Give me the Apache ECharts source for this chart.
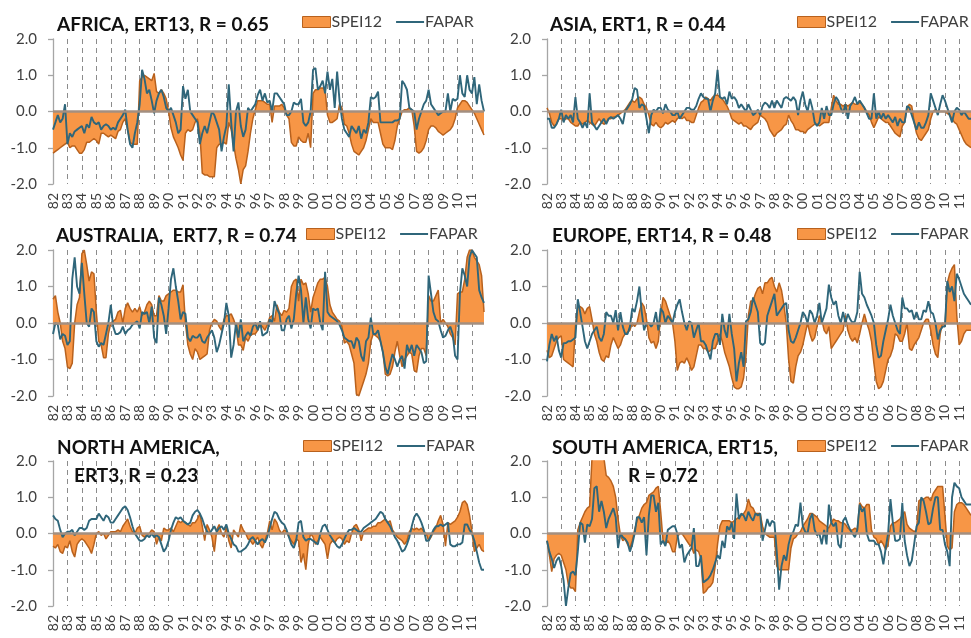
<!DOCTYPE html>
<html><head><meta charset="utf-8">
<script src="https://cdn.jsdelivr.net/npm/echarts@6/dist/echarts.min.js"></script>
<style>html,body{margin:0;padding:0;background:#fff}#c{width:971px;height:638px}</style>
</head><body><div id="c"></div>
<script>
// tick labels (years) and sampling (6 samples per year, bimonthly)
const yearLabels = ['82','83','84','85','86','87','88','89','90','91','92','93','94','95','96','97','98','99','00','01','02','03','04','05','06','07','08','09','10','11'];
const stepsPerYear = 6;

const africaSpei = [
-1.15,-1.1,-1.05,-1.0,-0.95,-0.9, -0.85,-1.0,-0.95,-0.95,-1.05,-1.15, -1.15,-1.05,-0.85,-0.85,-0.8,-0.75,
-0.8,-0.9,-0.6,-0.6,-0.65,-0.7, -0.65,-0.7,-0.75,-0.55,-0.5,-0.3, -0.2,-0.5,-0.85,-0.9,-0.9,-0.9,
0.85,0.95,1.0,0.95,0.9,0.85, 1.05,0.55,0.5,0.6,0.5,0.35, 0.0,-0.45,-0.7,-0.85,-1.0,-1.2,
-1.35,-0.6,-0.5,-0.55,-0.5,-0.3, -0.2,-0.6,-1.7,-1.75,-1.75,-1.8, -1.8,-1.8,-1.0,-0.9,-0.9,-0.85,
-0.9,-0.3,-0.5,-0.9,-1.3,-1.6, -2.0,-1.6,-1.5,-1.1,-0.6,-0.2, 0.05,0.3,0.3,0.3,0.25,0.2,
0.2,-0.3,0.15,0.15,0.15,0.2, 0.1,-0.1,-0.2,-0.85,-0.95,-0.95, -0.7,-0.8,-0.85,-0.85,-0.6,-1.0,
0.5,0.6,0.6,0.65,0.65,0.6, -0.1,-0.3,-0.3,-0.25,-0.2,0.2, 0.1,-0.35,-0.4,-0.6,-0.9,-1.1,
-1.15,-1.2,-1.1,-1.0,-0.8,-0.5, -0.2,-0.3,-0.3,-0.3,-0.6,-0.9, -1.0,-1.0,-1.0,-1.05,-0.8,-0.4,
-0.2,0.0,0.05,0.05,0.1,0.05, -0.4,-1.1,-1.15,-1.1,-1.0,-0.8, -0.5,-0.4,-0.4,-0.45,-0.55,-0.6,
-0.65,-0.6,-0.55,-0.5,-0.4,-0.2, 0.1,0.2,0.3,0.3,0.25,0.15, 0.05,-0.05,-0.2,-0.35,-0.5,-0.65];
const africaFapar = [
-0.5,-0.3,-0.1,-0.3,-0.2,0.2, -0.9,-0.6,-0.7,-0.55,-0.5,-0.45, -0.4,-0.6,-0.35,-0.45,-0.15,-0.3,
-0.35,-0.3,-0.5,-0.4,-0.35,-0.4, -0.5,-0.45,-0.5,-0.3,-0.2,-0.1, 0.05,-0.5,-0.9,-1.0,-0.6,-0.3,
0.2,1.15,0.9,0.5,0.6,0.3, -0.05,0.3,0.5,0.6,0.4,0.1, 0.0,0.1,-0.1,-0.3,-0.6,-0.5,
0.7,0.35,0.6,0.0,-0.1,-0.2, -0.3,-0.9,-0.6,-0.4,-0.6,-0.3, 0.0,-0.1,-0.3,-0.5,-1.1,-0.7,
-0.4,0.75,-0.3,-1.1,0.0,0.25, -0.4,-0.7,-0.5,0.1,0.0,0.1, 0.2,0.45,0.6,0.3,0.5,0.25,
0.3,0.0,0.5,0.5,0.4,0.3, 0.2,-0.1,-0.1,0.0,0.25,0.2, 0.2,0.35,-0.3,-0.4,-0.3,0.0,
1.15,1.2,0.6,0.7,0.85,0.5, 1.1,0.6,0.9,0.1,1.1,0.3, -0.2,-0.5,-0.6,-0.7,-0.4,-0.5,
-0.6,-0.4,-0.75,-0.5,-0.6,-0.3, 0.4,0.35,0.4,0.55,-0.3,-0.3, -0.3,-0.3,-0.3,-0.3,-0.25,-0.25,
-0.2,0.85,0.75,0.6,0.1,0.05, 0.0,-0.5,-0.2,0.0,0.2,0.3, 0.6,0.2,0.1,0.0,-0.1,-0.05,
0.0,0.0,0.5,0.0,0.35,0.3, 0.35,1.0,0.5,0.4,1.0,0.6, 0.5,0.95,0.2,0.75,0.3,0.0];

const asiaSpei = [
0.1,-0.05,-0.3,-0.4,-0.35,-0.2, -0.2,-0.25,-0.2,-0.2,-0.3,-0.35, -0.4,-0.4,-0.3,-0.35,-0.3,-0.25,
-0.3,-0.35,-0.4,-0.3,-0.2,-0.3, -0.35,-0.3,-0.2,-0.2,-0.15,-0.15, -0.1,-0.05,0.0,0.05,0.15,0.25,
0.3,0.25,0.35,0.4,0.35,0.2, 0.1,-0.1,-0.35,-0.4,-0.3,-0.4, -0.45,-0.4,-0.3,-0.35,-0.3,-0.25,
-0.3,-0.2,-0.15,-0.2,-0.15,-0.25, -0.25,-0.3,-0.3,-0.1,0.1,0.25, 0.3,0.4,0.35,0.3,0.4,0.45,
0.45,0.4,0.35,0.25,0.15,0.0, -0.2,-0.25,-0.3,-0.35,-0.3,-0.4, -0.4,-0.45,-0.5,-0.4,-0.35,-0.3,
-0.1,-0.15,-0.2,-0.3,-0.5,-0.6, -0.7,-0.6,-0.55,-0.5,-0.4,-0.35, -0.1,-0.25,-0.35,-0.5,-0.5,-0.55,
-0.55,-0.6,-0.5,-0.45,-0.4,-0.35, -0.35,-0.4,-0.35,-0.3,-0.3,-0.3, 0.1,0.45,0.3,0.2,0.2,0.15,
0.2,0.15,0.2,0.25,0.2,0.2, 0.25,0.2,0.1,0.0,-0.1,-0.3, -0.45,-0.3,-0.15,-0.2,-0.25,-0.3,
-0.3,-0.4,-0.5,-0.6,-0.65,-0.7, -0.4,-0.3,0.1,0.2,0.15,-0.3, -0.6,-0.75,-0.8,-0.7,-0.6,-0.5,
-0.2,0.0,0.05,0.0,0.0,0.0, 0.0,-0.05,-0.1,-0.2,-0.3,-0.35, -0.5,-0.65,-0.8,-0.9,-0.95,-1.0];
const asiaFapar = [
-0.2,-0.2,-0.45,-0.45,-0.35,-0.2, 0.05,-0.3,-0.1,-0.2,-0.1,-0.3, 0.4,-0.2,-0.3,-0.45,-0.3,-0.45,
0.5,-0.3,-0.4,-0.5,-0.4,-0.3, -0.2,-0.35,-0.2,-0.15,-0.2,-0.15, -0.1,-0.2,-0.35,0.0,0.1,0.2,
0.35,0.65,0.6,0.1,0.2,0.15, -0.2,-0.6,-0.1,0.05,0.0,0.1, 0.1,-0.05,0.2,0.05,0.0,-0.1,
-0.1,0.0,-0.2,-0.1,0.0,0.1, 0.1,0.05,0.05,0.15,0.35,0.5, 0.4,0.35,0.35,0.0,0.3,0.5,
1.15,0.4,0.35,0.4,0.2,0.55, 0.35,0.4,0.3,0.1,0.2,0.1, 0.0,0.2,0.05,-0.1,-0.05,0.05,
-0.1,0.15,0.25,0.2,0.1,0.3, 0.1,0.3,0.2,0.1,0.35,0.4, 0.35,0.3,0.4,0.3,-0.1,0.3,
0.55,0.2,0.0,0.35,0.1,-0.3, -0.4,-0.3,0.1,-0.2,0.15,-0.1, -0.1,0.2,0.4,0.3,0.1,-0.05,
0.2,-0.2,0.15,0.25,0.4,0.2, 0.3,0.2,0.1,-0.05,-0.2,-0.2, 0.5,-0.2,0.0,-0.2,-0.05,-0.2,
-0.1,-0.2,-0.3,-0.15,-0.4,-0.2, -0.3,-0.3,0.15,0.1,-0.1,-0.3, -0.5,-0.3,-0.45,-0.45,-0.3,-0.1,
0.5,0.3,0.1,-0.1,0.2,0.45, 0.3,0.1,-0.1,-0.3,0.0,0.1, 0.05,-0.1,0.0,-0.1,-0.2,-0.2];

const australiaSpei = [
0.65,0.75,0.3,0.0,-0.5,-0.7, -1.2,-1.25,-1.1,0.0,0.5,0.7, 1.9,2.0,1.6,1.15,1.4,1.35,
0.3,-0.5,-0.6,-0.95,-0.95,-0.3, 0.0,0.05,0.1,0.3,0.35,0.0, 0.4,0.55,0.4,0.3,0.4,0.3,
0.45,0.2,0.3,0.5,0.6,0.5, 0.2,0.2,0.75,0.6,0.6,0.75, 0.8,0.85,0.9,0.9,0.85,0.85,
1.05,0.0,-0.6,-0.85,-1.0,-0.7, -0.8,-1.0,-0.95,-0.9,-0.85,-0.2, 0.0,0.1,0.05,-0.1,-0.2,0.1,
0.2,0.2,0.25,0.1,-0.1,-0.6, -0.6,-0.75,-0.4,-0.5,-0.35,-0.3, -0.3,-0.2,-0.05,-0.1,-0.2,-0.05,
0.15,0.2,0.05,0.5,0.3,0.2, 0.35,0.3,0.4,1.0,1.15,1.2, 0.6,1.2,1.05,1.1,0.8,0.3,
0.7,0.9,1.1,1.2,1.2,1.25, 1.0,0.5,0.3,0.2,0.1,0.05, -0.1,-0.55,-0.5,-0.6,-0.85,-1.1,
-1.95,-2.0,-1.8,-1.6,-1.4,-1.1, -0.5,-0.3,-0.35,-0.4,-0.5,-0.8, -1.4,-1.45,-1.4,-1.2,-0.8,-0.5,
-0.9,-1.2,-1.0,-0.9,-0.8,-0.85, -1.3,-1.35,-0.9,-0.7,-0.7,-0.9, 0.75,0.6,0.6,0.75,0.9,0.0,
0.1,0.0,-0.1,-0.3,-0.4,-0.6, 0.8,0.85,0.85,1.2,1.8,2.0, 2.0,1.8,1.7,1.6,1.3,0.3];
const australiaFapar = [
-0.3,0.0,-0.05,-0.45,-0.3,-0.35, -0.6,-0.5,1.2,1.8,1.0,0.8, 1.65,0.8,0.0,-0.1,0.4,0.3,
-0.5,-0.65,-0.55,-0.6,-0.3,0.0, 0.5,-0.1,-0.3,-0.3,-0.25,-0.1, -0.3,-0.2,-0.15,-0.05,0.0,0.05,
-0.15,0.3,0.25,0.3,0.0,0.45, -0.4,-0.55,0.7,0.5,0.2,-0.3, 0.4,1.2,1.5,1.0,0.6,0.1,
0.3,0.25,-0.4,-0.5,-0.35,-0.4, -0.4,-0.3,-0.5,-0.55,-0.4,-0.3, -0.2,-0.4,-0.8,-0.6,-0.3,0.0,
0.55,0.2,-0.95,-0.6,0.0,-0.4, 0.1,-0.5,-0.35,-0.25,-0.35,-0.1, 0.0,-0.2,0.05,-0.35,-0.3,-0.25,
0.1,0.0,0.6,0.4,0.25,-0.2, -0.2,0.1,0.2,-0.15,0.1,0.8, 1.3,0.9,0.0,0.7,0.1,-0.15,
0.4,0.35,0.4,0.0,-0.2,1.4, 0.3,0.2,0.15,0.1,0.05,-0.05, -0.2,-0.4,-0.45,-0.5,-0.5,-0.7,
-0.4,-0.5,-0.9,-1.05,-0.5,-0.4, 0.15,-0.3,-0.3,-0.2,-0.5,-0.8, -1.2,-1.4,-1.1,-0.85,-1.0,-1.2,
-1.0,-0.9,-1.25,-0.6,-0.8,-0.6, -0.9,-0.6,-0.7,-0.8,-1.1,-1.05, 1.3,0.8,0.3,0.1,0.05,-0.2,
-0.4,-0.35,-0.2,-0.1,-0.3,-0.9, -1.0,0.8,1.5,1.3,1.0,1.8, 2.0,1.9,1.8,0.9,0.7,0.55];

const europeSpei = [
-0.75,-0.95,-0.9,-0.7,-0.5,-0.4, -0.35,-1.0,-1.05,-1.1,-1.15,-1.2, -0.1,0.45,0.45,0.4,0.25,0.4,
0.45,0.1,-0.3,-0.5,-0.8,-1.0, -1.05,-0.9,-0.95,-0.6,-0.4,-0.55, -0.7,-0.6,-0.4,-0.3,-0.25,-0.2,
0.0,-0.1,0.0,0.3,0.55,0.45, 0.1,-0.4,-0.55,-0.5,-0.7,-0.5, 0.2,0.7,0.6,0.4,0.2,0.0,
-0.5,-1.3,-1.1,-1.05,-1.1,-0.95, -1.1,-1.3,-1.2,-0.9,-0.6,-0.6, -0.7,-0.7,-0.8,-0.75,-0.7,-0.7,
-0.5,-0.3,-0.5,-0.8,-1.0,-1.2, -1.5,-1.75,-1.8,-1.8,-1.75,-1.5, -0.9,0.2,0.6,0.6,0.8,0.95,
1.0,0.8,1.1,1.1,1.2,1.25, 1.0,0.85,1.1,0.9,0.5,0.0, -1.0,-1.6,-1.65,-1.2,-0.9,-0.8,
-0.6,-0.3,0.0,-0.3,-0.5,-0.4, -0.1,0.2,0.1,-0.2,-0.3,-0.1, -0.7,-0.6,-0.5,-0.4,-0.3,-0.2,
0.2,-0.2,-0.4,-0.5,-0.4,-0.55, -0.3,0.0,0.25,0.0,-0.2,-0.5, -1.1,-1.6,-1.8,-1.75,-1.6,-1.3,
-1.0,-0.9,-0.7,-0.3,-0.35,-0.5, -0.5,-0.3,0.0,-0.7,-0.75,-0.6, -0.5,-0.4,-0.2,0.0,0.1,0.1,
-0.2,-0.6,-0.85,-0.95,-0.3,0.0, -0.1,1.1,1.35,1.5,1.6,0.2, -0.6,-0.5,-0.3,-0.2,-0.2,-0.2];
const europeFapar = [
-1.05,-0.6,-0.3,-0.5,-0.35,-0.75, -0.95,-0.55,-0.55,-0.5,-0.5,-0.45, -0.4,0.65,0.3,-0.1,-0.5,-0.7,
-0.5,-0.3,-0.2,-0.1,-0.4,-0.5, -0.3,0.3,0.2,0.2,0.0,0.35, -0.2,0.3,-0.1,-0.3,-0.3,-0.1,
0.4,0.3,0.6,1.0,0.3,-0.2, 0.0,0.0,-0.1,0.0,0.3,-0.2, 0.4,0.3,0.0,0.2,0.1,0.0,
0.3,0.5,0.65,0.3,0.0,-0.2, 0.05,0.0,-0.4,-0.2,0.0,-0.5, -0.5,-0.6,-0.8,-1.0,-0.5,-0.3,
-0.3,-0.6,0.25,-0.2,-0.4,0.25, -0.3,-0.7,-1.6,-1.1,-0.8,-1.2, 0.05,0.1,0.3,0.7,0.5,0.3,
-0.55,-0.6,-0.55,0.2,0.4,0.6, 0.8,0.2,0.3,0.4,0.5,0.55, -0.2,-0.5,-0.55,-0.4,-0.2,0.0,
0.3,0.2,0.0,0.35,0.25,0.0, 0.2,0.55,0.0,0.2,0.4,1.05, 0.7,0.5,0.6,0.2,0.0,0.3,
0.0,0.25,0.1,0.0,0.05,0.3, 1.4,0.8,0.7,0.5,0.35,0.2, 0.0,-0.6,-0.95,-0.9,-0.5,-0.2,
0.1,0.5,0.2,0.0,-0.2,-0.3, 0.7,0.4,0.4,0.3,0.35,0.1, 0.3,0.1,0.1,0.35,0.3,0.6,
0.3,0.25,0.0,-0.45,-0.2,-0.1, -0.1,1.15,0.85,1.0,0.6,1.35, 1.2,1.0,0.8,0.7,0.6,0.5];

const northAmericaSpei = [
-0.35,-0.4,-0.3,-0.5,-0.55,-0.35, -0.4,-0.2,-0.5,-0.65,-0.3,-0.2, -0.15,-0.2,-0.3,-0.4,-0.55,-0.3,
0.0,0.05,-0.05,0.0,-0.15,-0.05, 0.05,0.05,0.05,0.1,0.05,0.2, 0.3,0.4,0.2,0.05,0.0,0.15,
0.2,-0.05,-0.1,-0.05,0.0,0.1, 0.05,-0.3,-0.1,-0.2,0.15,0.1, 0.1,0.15,0.05,0.2,0.35,0.3,
0.35,0.3,0.25,0.2,0.3,0.3, 0.4,0.55,0.2,-0.2,0.25,0.1, -0.1,-0.5,0.1,0.25,0.0,-0.1,
0.2,-0.2,-0.4,0.1,0.0,-0.1, 0.25,0.1,0.0,-0.15,-0.2,-0.3, -0.2,-0.1,-0.3,-0.4,-0.2,0.0,
0.35,0.1,0.4,0.3,0.1,0.0, 0.1,0.05,-0.1,-0.2,-0.3,-0.15, -0.2,-0.8,-0.55,-1.0,-0.3,0.0,
-0.1,-0.3,-0.2,-0.1,-0.2,-0.3, -0.7,-0.3,-0.2,-0.25,-0.15,-0.1, -0.15,-0.3,-0.2,-0.25,0.0,0.2,
0.25,0.1,-0.2,0.05,0.1,0.15, 0.15,0.2,0.2,0.3,0.3,0.35, 0.4,0.3,0.35,0.1,0.0,-0.1,
-0.15,-0.2,-0.3,-0.2,0.05,0.15, 0.1,0.15,0.1,0.15,0.05,0.0, -0.2,-0.1,0.05,0.15,0.35,0.5,
0.25,-0.35,0.3,0.25,0.3,0.35, 0.45,0.6,0.85,0.9,0.8,0.5, 0.05,-0.5,-0.4,-0.3,-0.45,-0.5];
const northAmericaFapar = [
0.5,0.4,0.35,0.1,-0.1,0.0, 0.05,0.05,0.1,-0.05,0.05,0.15, 0.15,0.1,0.15,0.35,0.4,0.4,
0.4,0.55,0.45,0.35,0.5,0.45, 0.3,0.3,0.4,0.5,0.6,0.7, 0.75,0.65,0.45,0.2,0.0,-0.1,
-0.2,-0.2,-0.15,-0.05,-0.1,0.0, -0.1,-0.05,-0.1,-0.3,-0.5,-0.4, -0.2,0.1,0.3,0.45,0.4,0.45,
0.35,0.3,0.25,0.3,0.5,0.6, 0.65,0.55,0.4,0.2,0.05,0.0, 0.1,0.2,0.05,0.15,0.2,0.1,
0.25,0.0,-0.15,-0.3,-0.35,-0.5, -0.5,-0.45,-0.4,-0.3,-0.15,-0.1, -0.2,-0.3,-0.2,-0.15,-0.25,-0.1,
0.15,0.4,0.6,0.55,0.4,0.3, 0.25,0.1,-0.1,-0.3,-0.4,-0.2, 0.3,0.35,-0.1,-0.2,-0.15,-0.15,
-0.2,-0.25,-0.3,0.0,0.2,0.25, 0.1,-0.05,-0.15,-0.25,-0.35,-0.4, -0.3,-0.15,0.0,0.1,0.1,0.15,
0.1,0.05,0.05,0.15,0.2,0.25, 0.3,0.35,0.4,0.5,0.6,0.55, 0.4,0.3,0.2,0.05,-0.1,-0.2,
-0.35,-0.5,-0.45,-0.3,-0.1,0.2, 0.45,0.55,0.45,0.3,0.1,-0.2, -0.2,-0.05,0.1,0.2,0.2,0.25,
0.2,0.25,0.3,-0.3,-0.35,-0.35, -0.3,-0.3,-0.25,0.25,0.25,0.1, 0.0,-0.2,-0.5,-0.8,-1.0,-1.0];

const southAmericaSpei = [
-0.2,-0.6,-1.05,-0.7,-0.6,-0.55, -0.6,-0.8,-1.0,-1.4,-1.5,-1.5, -1.6,0.1,0.3,0.45,0.6,0.7,
0.75,2.1,2.3,2.3,2.3,2.2, 2.1,1.6,1.55,1.45,1.3,1.0, 0.4,-0.05,-0.2,-0.15,-0.3,-0.4,
-0.2,0.1,0.35,0.5,0.7,0.8, 0.85,1.05,1.1,1.15,1.25,1.3, 0.6,-0.2,-0.3,-0.2,-0.3,-0.5,
-0.5,-0.1,0.0,0.0,-0.1,-0.2, -0.3,-0.35,-0.55,-0.45,-0.5,-0.7, -1.65,-1.6,-1.5,-1.45,-1.35,-0.9,
-0.3,0.2,0.35,0.35,0.35,0.35, 0.3,0.35,0.4,0.45,0.5,0.55, 0.65,0.95,0.75,0.7,0.55,0.55,
0.55,0.2,0.0,-0.05,-0.1,-0.1, -0.1,-0.9,-1.0,-1.0,-1.0,-1.0, -1.0,-0.4,-0.15,-0.1,0.0,0.05,
0.2,0.3,0.4,0.55,0.55,0.5, 0.45,0.35,0.3,0.25,0.2,0.15, 0.3,0.4,0.35,0.35,0.3,0.3,
0.25,0.15,0.1,0.1,0.15,0.1, 0.85,0.75,0.7,0.8,0.8,0.1, -0.1,-0.15,-0.3,-0.2,-0.3,-0.45,
-0.3,0.2,0.3,0.3,0.35,0.4, 0.5,0.6,0.25,0.15,0.1,0.05, 0.1,0.9,0.95,0.95,1.0,1.0,
0.9,1.1,1.2,1.3,1.3,1.3, 0.5,-0.35,-0.45,-0.4,0.6,0.8, 0.85,0.85,0.8,0.7,0.6,0.5];
const southAmericaFapar = [
-0.2,-0.5,-0.7,-0.95,-0.75,-0.65, -0.9,-1.3,-2.0,-1.5,-1.1,-1.05, -1.15,-0.5,0.3,0.25,-0.25,0.25,
0.2,0.4,1.25,1.3,0.6,0.9, 0.6,0.15,0.4,0.55,0.7,0.45, -0.4,0.0,-0.1,-0.15,-0.25,-0.5,
-0.3,0.0,0.45,0.45,0.3,0.45, -0.6,0.5,1.05,1.05,0.6,0.85, -0.3,-0.2,-0.35,0.1,0.15,0.2,
0.2,0.0,-0.4,-0.3,-0.8,-0.6, -0.5,-0.4,0.15,-0.9,-0.9,-0.6, -1.35,-1.3,-1.25,-1.15,-1.0,-0.8,
-0.6,-0.7,-0.2,-0.4,0.2,0.1, 0.3,-0.15,1.1,0.4,0.55,0.5, 0.35,0.6,0.45,0.35,0.55,0.5,
0.55,-0.2,0.1,0.4,0.2,0.35, 0.3,-0.5,-1.55,-0.9,-0.6,-0.75, -0.3,-0.05,0.05,0.25,0.2,0.85,
0.2,0.05,0.0,0.4,0.55,0.1, -0.05,0.0,-0.3,0.1,-0.3,0.8, 0.3,0.2,0.3,-0.3,-0.4,0.35,
0.45,0.25,0.1,0.0,-0.1,0.1, 0.8,0.6,0.7,0.0,-0.2,-0.2, -0.2,-0.3,-0.3,-0.5,-0.85,-0.4,
0.0,0.95,0.3,-0.2,-0.2,-0.15, 0.85,-0.2,-0.6,-0.9,-0.75,-0.3, 0.2,0.3,1.0,0.9,0.6,0.25,
0.3,0.7,1.0,1.0,0.1,0.1, -0.3,-0.5,-0.9,1.0,1.4,1.3, 1.25,1.0,0.9,0.8,0.8,0.8];

// category axis built from the tick labels
const categories = [];
yearLabels.forEach(y => { for (let s = 0; s < stepsPerYear; s++) categories.push(y + '-' + (s + 1)); });

const SPEI_FILL = '#f79646', SPEI_EDGE = '#b8611d', FAPAR_COL = '#2f667a';
const FONT = 'Lato';

const panels = [
  {spei: africaSpei, fapar: africaFapar, left: 53, top: 39, height: 145,
   titles: [{text: 'AFRICA, ERT13, R = 0.65', left: 57, top: 15}], legend: {left: 302, top: 14}},
  {spei: asiaSpei, fapar: asiaFapar, left: 547, top: 39, height: 145,
   titles: [{text: 'ASIA, ERT1, R = 0.44', left: 550, top: 15}], legend: {left: 797, top: 14}},
  {spei: australiaSpei, fapar: australiaFapar, left: 53, top: 250, height: 146,
   titles: [{text: 'AUSTRALIA,  ERT7, R = 0.74', left: 56, top: 226}], legend: {left: 306, top: 226}},
  {spei: europeSpei, fapar: europeFapar, left: 547, top: 250, height: 146,
   titles: [{text: 'EUROPE, ERT14, R = 0.48', left: 552, top: 226}], legend: {left: 797, top: 226}},
  {spei: northAmericaSpei, fapar: northAmericaFapar, left: 53, top: 461, height: 145,
   titles: [{text: 'NORTH AMERICA,', left: 57, top: 438}, {text: 'ERT3, R = 0.23', left: 74, top: 466}], legend: {left: 303, top: 438}},
  {spei: southAmericaSpei, fapar: southAmericaFapar, left: 547, top: 461, height: 145,
   titles: [{text: 'SOUTH AMERICA, ERT15,', left: 552, top: 438}, {text: 'R = 0.72', left: 628, top: 466}], legend: {left: 797, top: 438}}
];

const option = {animation: false, backgroundColor: '#fff', grid: [], xAxis: [], yAxis: [], series: [], title: [], legend: []};

panels.forEach((p, i) => {
  option.grid.push({left: p.left, top: p.top, width: 431, height: p.height, containLabel: false});
  option.xAxis.push({
    type: 'category', gridIndex: i, data: categories, boundaryGap: false,
    axisLine: {show: false}, axisTick: {show: false},
    axisLabel: {interval: (idx) => idx % stepsPerYear === 0, rotate: 90, margin: 9,
      showMinLabel: true, hideOverlap: false,
      formatter: v => v.split('-')[0], fontSize: 14, color: '#404040', fontFamily: FONT},
    splitLine: {show: true, interval: (idx) => idx % stepsPerYear === 0 && idx > 0,
      lineStyle: {type: [5, 4], color: '#8c8c8c', width: 1}}
  });
  option.yAxis.push({
    type: 'value', gridIndex: i, min: -2, max: 2, interval: 1,
    axisLine: {show: true, lineStyle: {color: '#a6a6a6', width: 1.3}},
    axisTick: {show: true, length: 5, lineStyle: {color: '#a6a6a6', width: 1.3}},
    splitLine: {show: false},
    axisLabel: {formatter: v => v.toFixed(1), fontSize: 15, color: '#404040', margin: 16, fontFamily: FONT}
  });
  option.series.push({
    name: 'SPEI12', type: 'line', xAxisIndex: i, yAxisIndex: i, data: p.spei,
    symbol: 'none', z: 2,
    lineStyle: {color: SPEI_EDGE, width: 1.5},
    itemStyle: {color: SPEI_FILL},
    areaStyle: {color: SPEI_FILL, opacity: 1, origin: 0},
    markLine: {silent: true, symbol: 'none', label: {show: false},
      lineStyle: {color: '#a38f80', width: 2.5, type: 'solid'}, data: [{yAxis: 0}]}
  });
  option.series.push({
    name: 'FAPAR', type: 'line', xAxisIndex: i, yAxisIndex: i, data: p.fapar,
    symbol: 'none', z: 4,
    lineStyle: {color: FAPAR_COL, width: 1.9},
    itemStyle: {color: FAPAR_COL}
  });
  p.titles.forEach(t => option.title.push({
    text: t.text, left: t.left, top: t.top, padding: 0,
    textStyle: {fontFamily: FONT, fontWeight: 'bold', fontSize: 19, color: '#111'}
  }));
  option.legend.push({
    left: p.legend.left, top: p.legend.top, padding: 0, itemGap: 14,
    itemWidth: 28, itemHeight: 11, selectedMode: false,
    textStyle: {fontSize: 16, color: '#404040', fontFamily: FONT, padding: [0, 0, 0, -4]},
    data: [
      {name: 'SPEI12', icon: 'rect', itemStyle: {color: SPEI_FILL, borderColor: SPEI_EDGE, borderWidth: 1}},
      {name: 'FAPAR', icon: 'path://M0,0H28V2H0Z', itemStyle: {color: FAPAR_COL}}
    ]
  });
});

const chart = echarts.init(document.getElementById('c'), null, {renderer: 'canvas'});
chart.setOption(option);
</script>
</body></html>
